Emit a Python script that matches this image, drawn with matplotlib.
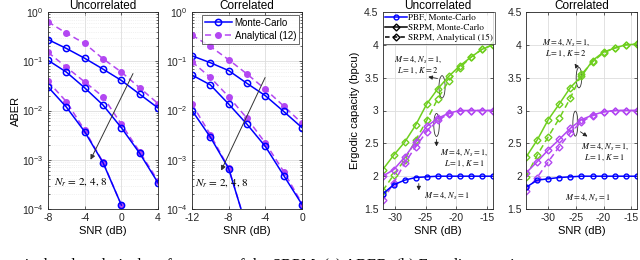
import numpy as np
import matplotlib.pyplot as plt
from matplotlib.patches import Ellipse

# ---------------- ABER data (log10 values) ----------------
snr_unc = [-8, -6, -4, -2, 0, 2, 4]
mc_unc_nr2 = [-0.56, -0.74, -0.94, -1.16, -1.39, -1.67, -1.95]
an_unc_nr2 = [-0.20, -0.43, -0.64, -0.95, -1.22, -1.54, -1.86]
mc_unc_nr4 = [-0.98, -1.22, -1.54, -1.89, -2.35, -2.87, -3.47]
an_unc_nr4 = [-0.82, -1.12, -1.42, -1.72, -2.28, -2.84, -3.43]
snr_unc8 = [-8, -6, -4, -2, 0]
mc_unc_nr8 = [-1.52, -1.93, -2.43, -3.06, -3.92]
an_unc_nr8 = [-1.41, -1.82, -2.40, -3.05, -3.92]

snr_cor = [-12, -10, -8, -6, -4, -2, 0]
mc_cor_nr2 = [-0.89, -1.03, -1.19, -1.45, -1.70, -2.02, -2.35]
an_cor_nr2 = [-0.47, -0.70, -0.97, -1.26, -1.57, -1.91, -2.26]
mc_cor_nr4 = [-1.28, -1.48, -1.87, -2.28, -2.73, -3.32, -3.91]
an_cor_nr4 = [-1.01, -1.33, -1.72, -2.16, -2.66, -3.24, -3.89]
snr_cor8 = [-12, -10, -8, -6]
mc_cor_nr8 = [-2.00, -2.54, -3.18, -4.40]
an_cor_nr8 = [-1.87, -2.49, -3.17, -4.40]

# ---------------- Ergodic capacity data ----------------
snr_cap_unc = [-32, -30.2, -28.4, -26.6, -24.8, -23, -21.2, -19.4, -17.6, -15.8, -14]
pbf_unc = [1.73, 1.87, 1.94, 1.98, 1.99, 2.00, 2.00, 2.00, 2.00, 2.00, 2.00]
k2_mc_unc = [2.10, 2.32, 2.52, 2.78, 3.10, 3.33, 3.52, 3.68, 3.81, 3.93, 4.00]
k2_an_unc = [1.78, 2.02, 2.25, 2.55, 2.85, 3.18, 3.45, 3.65, 3.81, 3.93, 4.00]
k1_mc_unc = [2.00, 2.10, 2.29, 2.52, 2.76, 2.88, 2.96, 3.00, 3.00, 3.00, 3.00]
k1_an_unc = [1.63, 1.90, 2.20, 2.45, 2.68, 2.85, 2.95, 2.99, 3.00, 3.00, 3.00]

snr_cap_cor = [-34, -32, -30, -28, -26, -24, -22, -20, -18, -16, -14]
pbf_cor = [1.83, 1.94, 1.96, 1.98, 1.99, 2.00, 2.00, 2.00, 2.00, 2.00, 2.00]
k2_mc_cor = [2.29, 2.55, 2.86, 3.10, 3.35, 3.52, 3.76, 3.89, 3.95, 4.00, 4.01]
k2_an_cor = [1.99, 2.32, 2.60, 2.88, 3.19, 3.55, 3.74, 3.88, 3.95, 4.00, 4.01]
k1_mc_cor = [2.05, 2.22, 2.40, 2.56, 2.73, 2.86, 2.93, 2.98, 3.00, 3.00, 3.00]
k1_an_cor = [1.78, 1.98, 2.22, 2.45, 2.66, 2.83, 2.92, 2.98, 3.00, 3.00, 3.00]

BLUE = "#0000FF"
PURPLE = "#B347F2"
GREEN = "#6FCF1F"
AXC = "#262626"

plt.rcParams["font.family"] = ["Liberation Sans", "DejaVu Sans"]
plt.rcParams["mathtext.fontset"] = "stix"

fig = plt.figure(figsize=(6.4, 2.6), dpi=100)
ax1 = fig.add_axes([0.075, 0.196, 0.172, 0.758])
ax2 = fig.add_axes([0.300, 0.196, 0.172, 0.758])
ax3 = fig.add_axes([0.598, 0.196, 0.172, 0.758])
ax4 = fig.add_axes([0.822, 0.196, 0.173, 0.758])


def style(ax):
    for s in ax.spines.values():
        s.set_color(AXC)
        s.set_linewidth(0.6)
    ax.tick_params(labelsize=7.5, direction="in", length=2.5, width=0.5,
                   colors=AXC, top=True, right=True, pad=3)
    ax.tick_params(which="minor", direction="in", length=1.5, width=0.4,
                   top=True, right=True)
    ax.grid(True, which="major", color="#DDDDDD", lw=0.6)
    ax.set_axisbelow(True)


def aber_panel(ax, x, x8, mc, an, title, xlim, xticks):
    for m, a, xs in zip(mc, an, [x, x, x8]):
        ax.semilogy(xs, 10 ** np.array(a), "--o", color=PURPLE, mfc=PURPLE,
                    mec=PURPLE, ms=4, lw=1.1, dashes=(4, 2.5))
        ax.semilogy(xs, 10 ** np.array(m), "-o", color=BLUE, mfc="none",
                    mec=BLUE, ms=4.5, mew=1.1, lw=1.1)
    ax.set_xlim(*xlim)
    ax.set_ylim(1e-4, 1)
    ax.set_xticks(xticks)
    ax.set_xticklabels([str(t) for t in xticks])
    style(ax)
    ax.grid(True, which="minor", color="#E6E6E6", lw=0.5, ls=":")
    ax.set_title(title, fontsize=8.5, pad=2)
    ax.set_xlabel("SNR (dB)", fontsize=8, labelpad=2)


aber_panel(ax1, snr_unc, snr_unc8, [mc_unc_nr2, mc_unc_nr4, mc_unc_nr8],
           [an_unc_nr2, an_unc_nr4, an_unc_nr8], "Uncorrelated", (-8, 4), [-8, -4, 0, 4])
ax1.set_ylabel("ABER", fontsize=8, labelpad=1)
ax1.annotate("", xy=(-3.5, 10 ** -3.05), xytext=(1.4, 10 ** -1.2),
             arrowprops=dict(arrowstyle="-|>", color="#333333", lw=0.7,
                             mutation_scale=7))
ax1.text(-7.4, 10 ** -3.45, r"$N_r$ = 2, 4, 8", fontsize=8, va="center",
         family="STIXGeneral")

aber_panel(ax2, snr_cor, snr_cor8, [mc_cor_nr2, mc_cor_nr4, mc_cor_nr8],
           [an_cor_nr2, an_cor_nr4, an_cor_nr8], "Correlated", (-12, 0), [-12, -8, -4, 0])
ax2.annotate("", xy=(-8.95, 10 ** -3.27), xytext=(-3.9, 10 ** -1.28),
             arrowprops=dict(arrowstyle="-|>", color="#333333", lw=0.7,
                             mutation_scale=7))
ax2.text(-11.7, 10 ** -3.47, r"$N_r$ = 2, 4, 8", fontsize=8, va="center",
         family="STIXGeneral")
h1, = ax2.plot([], [], "-o", color=BLUE, mfc="none", mec=BLUE, ms=4.5, mew=1.1, lw=1.1)
h2, = ax2.plot([], [], "--o", color=PURPLE, mfc=PURPLE, ms=4, lw=1.1, dashes=(4, 2.5))
ax2.legend([h1, h2], ["Monte-Carlo", "Analytical (12)"], loc="upper right",
           fontsize=7, frameon=True, fancybox=False, edgecolor=AXC,
           borderpad=0.3, labelspacing=0.3, handlelength=2.8, handletextpad=0.3,
           borderaxespad=0.3).get_frame().set_linewidth(0.6)


def cap_panel(ax, x, pbf, k2m, k2a, k1m, k1a, title, xlim):
    ax.plot(x, k2a, "--D", color=GREEN, mfc="none", ms=3.5, mew=1.0, lw=1.1, dashes=(4, 2.5))
    ax.plot(x, k2m, "-D", color=GREEN, mfc="none", ms=3.5, mew=1.0, lw=1.1)
    ax.plot(x, k1a, "--D", color=PURPLE, mfc="none", ms=3.5, mew=1.0, lw=1.1, dashes=(4, 2.5))
    ax.plot(x, k1m, "-D", color=PURPLE, mfc="none", ms=3.5, mew=1.0, lw=1.1)
    ax.plot(x, pbf, "-o", color=BLUE, mfc="none", ms=3.5, mew=1.0, lw=1.1)
    ax.set_xlim(*xlim)
    ax.set_ylim(1.5, 4.5)
    ax.set_xticks([-30, -25, -20, -15])
    ax.set_xticklabels(["-30", "-25", "-20", "-15"])
    ax.set_yticks([1.5, 2, 2.5, 3, 3.5, 4, 4.5])
    ax.set_yticklabels(["1.5", "2", "2.5", "3", "3.5", "4", "4.5"])
    style(ax)
    ax.set_title(title, fontsize=8.5, pad=2)
    ax.set_xlabel("SNR (dB)", fontsize=8, labelpad=2)


cap_panel(ax3, snr_cap_unc, pbf_unc, k2_mc_unc, k2_an_unc, k1_mc_unc, k1_an_unc,
          "Uncorrelated", (-32, -14))
ax3.set_ylabel("Ergodic capacity (bpcu)", fontsize=8, labelpad=3)
g1, = ax3.plot([], [], "-o", color=BLUE, mfc="none", ms=3.5, mew=1.0, lw=1.1)
g2, = ax3.plot([], [], "-D", color="k", mfc="none", ms=3.5, mew=1.0, lw=1.1)
g3, = ax3.plot([], [], "--D", color="k", mfc="none", ms=3.5, mew=1.0, lw=1.1, dashes=(3, 2))
leg = ax3.legend([g1, g2, g3], ["PBF, Monte-Carlo", "SRPM, Monte-Carlo", "SRPM, Analytical (15)"],
                 loc="upper left", frameon=True, fancybox=False,
                 edgecolor=AXC, borderpad=0.2, labelspacing=0.15, handlelength=2.4,
                 handletextpad=0.2, borderaxespad=0.0, prop={"family": "STIXGeneral", "size": 6.6})
leg.get_frame().set_linewidth(0.6)

akw = dict(arrowstyle="-|>", color="#222222", lw=0.6, mutation_scale=6)
tkw = dict(fontsize=6, family="STIXGeneral", linespacing=1.1, ha="center", va="center")
ax3.add_patch(Ellipse((-22.3, 3.36), 1.0, 0.34, fill=False, ec="#333333", lw=0.6))
ax3.annotate("", xy=(-25.0, 3.52), xytext=(-22.6, 3.48), arrowprops=akw)
ax3.text(-26.3, 3.69, "$M=4,\\,N_s=1,$\n$L=1,\\,K=2$", **tkw)
ax3.add_patch(Ellipse((-23.2, 2.78), 0.9, 0.35, fill=False, ec="#333333", lw=0.6))
ax3.annotate("", xy=(-23.2, 2.41), xytext=(-23.2, 2.6), arrowprops=akw)
ax3.text(-18.7, 2.27, "$M=4,\\,N_s=1,$\n$L=1,\\,K=1$", **tkw)
ax3.annotate("", xy=(-26.1, 1.74), xytext=(-26.1, 1.93), arrowprops=akw)
ax3.text(-21.5, 1.70, "$M=4,\\,N_s=1$", **tkw)

cap_panel(ax4, snr_cap_cor, pbf_cor, k2_mc_cor, k2_an_cor, k1_mc_cor, k1_an_cor,
          "Correlated", (-34, -14))
ax4.add_patch(Ellipse((-24.45, 3.5), 1.0, 0.31, fill=False, ec="#333333", lw=0.6))
ax4.annotate("", xy=(-25.5, 3.75), xytext=(-24.8, 3.66), arrowprops=akw)
ax4.text(-26.8, 3.95, "$M=4,\\,N_s=1,$\n$L=1,\\,K=2$", **tkw)
ax4.add_patch(Ellipse((-25.1, 2.8), 0.9, 0.38, fill=False, ec="#333333", lw=0.6))
ax4.annotate("", xy=(-22.5, 2.58), xytext=(-24.6, 2.7), arrowprops=akw)
ax4.text(-19.8, 2.36, "$M=4,\\,N_s=1,$\n$L=1,\\,K=1$", **tkw)
ax4.text(-22.8, 1.67, "$M=4,\\,N_s=1$", **tkw)

fig.text(-0.031, -0.037, "Numerical and analytical performance of the SRPM. (a) ABER. (b) Ergodic capacity.",
         fontsize=11.6, family="Liberation Serif", ha="left", va="baseline")

fig.savefig("out.png", dpi=100)
